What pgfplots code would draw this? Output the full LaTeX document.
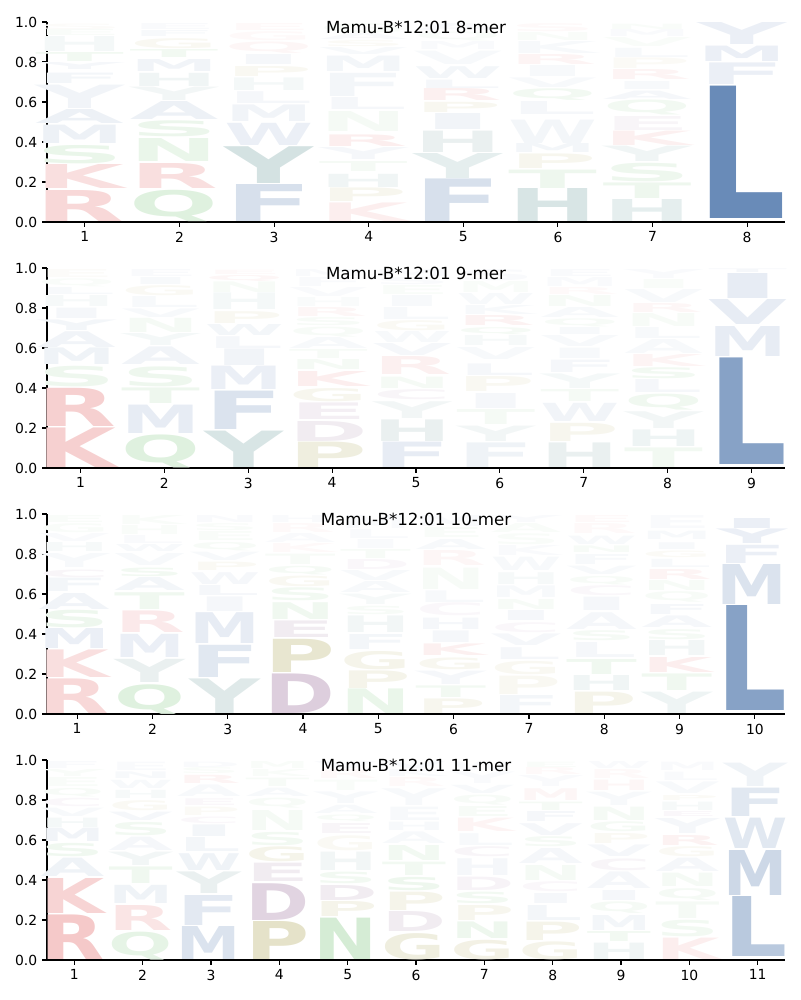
\documentclass[border=0pt]{standalone}
\usepackage{fontspec}
\setmainfont{DejaVu Sans}
\usepackage{pgfplots}
\pgfplotsset{compat=1.18}

\definecolor{cr}{RGB}{214,39,40}
\definecolor{cb}{RGB}{55,100,160}
\definecolor{ct}{RGB}{40,110,110}
\definecolor{cg}{RGB}{44,160,44}
\definecolor{co}{RGB}{150,140,40}
\definecolor{cp}{RGB}{120,60,120}

% primitive font, so that it is set even where tikz uses \nullfont
\font\logoprim="DejaVu Sans/B" at 10pt
\pgfdeclareplotmark{blank}{}
\newbox\letterbox

\pgfplotsset{
  logo/.style={
    width=531.36pt, height=144pt, scale only axis,
    anchor=south west, axis on top,
    ymin=0, ymax=1, xmin=0.6,
    axis x line*=bottom, axis y line*=left,
    axis line style={-, line width=0.8pt},
    tick align=outside, major tick length=3.5pt,
    tick style={line width=0.8pt, black},
    ytick={0,0.2,0.4,0.6,0.8,1.0},
    yticklabel style={/pgf/number format/.cd, fixed, fixed zerofill, precision=1},
    /pgf/number format/assume math mode=true,
    ticklabel style={font=\fontsize{10}{12}\selectfont},
    title style={at={(0.5,0.93)}, anchor=center, font=\fontsize{12}{14}\selectfont},
  },
  letters/.style={
    scatter, only marks, mark=blank,
    visualization depends on={value \thisrow{y0}\as\lyb},
    visualization depends on={value \thisrow{y1}\as\lya},
    visualization depends on={value \thisrow{L}\as\ltr},
    visualization depends on={value \thisrow{c}\as\lc},
    visualization depends on={value \thisrow{o}\as\lo},
    scatter/@pre marker code/.code={%
      \setbox\letterbox=\hbox{\logoprim\ltr}%
      \ifdim\wd\letterbox>0.5pt
      \pgfmathsetmacro\sx{\lw/\wd\letterbox}%
      \pgfmathsetmacro\sy{max((\lya-\lyb)*144,0.3)/(\ht\letterbox+\dp\letterbox)}%
      \node[inner sep=0pt, outer sep=0pt, anchor=south, xshift=0.5*\lw+5pt,
        xscale=\sx, yscale=\sy, text=\lc!\lo!white] at (0,0) {\logoprim\ltr};
      \fi
    },
    scatter/@post marker code/.code={},
  },
}

\begin{document}
\begin{tikzpicture}
\path[use as bounding box] (0,0) rectangle (576pt,720pt);

% ---------------- 8-mer
\def\lw{64pt}
\begin{axis}[logo, at={(33.84pt,560.16pt)}, xmax=8.4, xtick={1,...,8},
  title={Mamu-B*12:01 8-mer}]
\addplot[letters] table[x=x, y=y0] {
x y0 y1 L c o
1 0.0 0.155 R cr 18
1 0.165 0.285 K cr 15
1 0.293 0.385 S cg 10
1 0.393 0.485 M cb 9
1 0.49 0.56 A cb 9
1 0.568 0.685 Y cb 7
1 0.693 0.745 F cb 6
1 0.76 0.795 Y cb 5
1 0.8 0.845 T cg 6
1 0.85 0.925 H ct 5
1 0.93 0.96 E cg 3
1 0.962 0.99 S co 3
2 0.0 0.157 Q cg 15
2 0.168 0.293 R cr 15
2 0.30 0.415 N cg 10
2 0.425 0.505 S cg 9
2 0.51 0.60 A cb 9
2 0.605 0.672 Y ct 6
2 0.677 0.743 H ct 7
2 0.75 0.81 M cb 7
2 0.82 0.86 T cg 6
2 0.868 0.918 G co 6
2 0.925 0.955 F cb 4
2 0.96 0.99 E cb 3
3 0.0 0.185 F cb 20
3 0.193 0.377 Y ct 20
3 0.382 0.493 W cb 10
3 0.502 0.585 M cb 7
3 0.593 0.652 L cb 5
3 0.655 0.718 H ct 5
3 0.727 0.777 P co 6
3 0.785 0.835 I cb 5
3 0.843 0.9 Q cr 4
3 0.905 0.95 G cr 3
3 0.955 0.99 E cr 3
4 0.0 0.093 K cr 8
4 0.1 0.168 P co 8
4 0.172 0.238 H ct 7
4 0.25 0.3 T cg 5
4 0.31 0.37 Y cb 5
4 0.377 0.435 R cr 8
4 0.45 0.55 N cg 5
4 0.56 0.62 L cb 5
4 0.627 0.743 F cb 6
4 0.75 0.827 M cb 6
4 0.835 0.87 V cb 4
4 0.875 0.905 S co 4
4 0.91 0.94 A cb 3
4 0.945 0.99 G cg 3
5 0.0 0.213 F cb 20
5 0.218 0.343 Y ct 12
5 0.348 0.455 H ct 10
5 0.46 0.54 I cb 7
5 0.547 0.598 P co 7
5 0.605 0.665 R cr 7
5 0.668 0.71 L cb 5
5 0.718 0.777 W cb 6
5 0.785 0.852 V cb 4
5 0.86 0.9 M cb 3
5 0.905 0.95 Q cg 3
5 0.955 0.99 A cb 3
6 0.0 0.165 H ct 18
6 0.168 0.26 T cg 8
6 0.265 0.338 P co 8
6 0.345 0.39 M cb 6
6 0.393 0.51 W cb 6
6 0.535 0.6 L cb 5
6 0.61 0.668 Q cg 6
6 0.672 0.72 V cb 4
6 0.725 0.78 I cb 4
6 0.785 0.835 R cr 5
6 0.84 0.9 K cb 4
6 0.905 0.945 N cg 3
6 0.95 0.99 S cr 3
7 0.0 0.11 H ct 12
7 0.115 0.193 T cg 8
7 0.2 0.293 S cg 8
7 0.3 0.377 Y ct 7
7 0.38 0.452 K cr 7
7 0.457 0.527 E cp 5
7 0.535 0.61 Q cg 6
7 0.613 0.655 A cb 5
7 0.66 0.70 I cb 4
7 0.71 0.76 R cr 5
7 0.765 0.818 P co 4
7 0.822 0.868 L cb 4
7 0.875 0.92 V cg 3
7 0.925 0.96 M cb 3
7 0.963 0.99 N cg 3
8 0.015 0.677 L cb 75
8 0.685 0.793 F cb 10
8 0.8 0.877 M cb 10
8 0.885 0.995 Y cb 10
};
\end{axis}

% ---------------- 9-mer
\def\lw{56.8pt}
\begin{axis}[logo, at={(33.84pt,383.04pt)}, xmax=9.4, xtick={1,...,9},
  title={Mamu-B*12:01 9-mer}]
\addplot[letters] table[x=x, y=y0] {
x y0 y1 L c o
1 0.0 0.198 K cr 22
1 0.207 0.398 R cr 22
1 0.407 0.51 S cg 8
1 0.515 0.598 M cb 8
1 0.603 0.682 A cb 7
1 0.687 0.74 Y cb 6
1 0.748 0.80 I cb 5
1 0.805 0.86 H ct 4
1 0.865 0.9 L cb 4
1 0.905 0.945 Q cg 3
1 0.95 0.99 E co 3
2 0.0 0.165 Q cg 15
2 0.173 0.315 M cb 12
2 0.32 0.398 T cg 8
2 0.407 0.507 S cg 8
2 0.515 0.603 A cb 7
2 0.61 0.67 Y ct 5
2 0.677 0.748 N cg 5
2 0.752 0.795 V cb 4
2 0.8 0.855 L cb 4
2 0.86 0.91 G co 5
2 0.915 0.95 I cb 4
2 0.955 0.99 E cb 3
3 0.0 0.182 Y ct 18
3 0.19 0.382 F cb 18
3 0.39 0.507 M cb 10
3 0.51 0.593 I cb 7
3 0.598 0.657 L cb 5
3 0.66 0.715 W cb 6
3 0.723 0.782 P co 6
3 0.79 0.873 H ct 5
3 0.877 0.93 N cg 4
3 0.935 0.965 Q cr 4
3 0.968 0.99 E cr 3
4 0.0 0.127 P co 15
4 0.132 0.232 D cp 10
4 0.24 0.323 E cp 8
4 0.332 0.398 G co 8
4 0.407 0.482 K cr 8
4 0.49 0.54 N cg 5
4 0.545 0.59 T cg 4
4 0.595 0.65 A cb 4
4 0.655 0.705 Q cg 4
4 0.71 0.75 S cg 4
4 0.755 0.8 R cr 4
4 0.805 0.85 H ct 3
4 0.855 0.9 V cb 3
4 0.905 0.95 F cb 3
4 0.955 0.99 M cb 3
5 0.0 0.127 F cb 12
5 0.132 0.24 H ct 10
5 0.248 0.332 Y ct 6
5 0.34 0.39 C cp 5
5 0.398 0.455 N cg 5
5 0.465 0.555 R cr 7
5 0.56 0.62 V cb 5
5 0.625 0.68 W cb 4
5 0.685 0.735 G co 5
5 0.74 0.8 L cb 4
5 0.805 0.86 I cb 4
5 0.865 0.91 E cg 3
5 0.915 0.95 S cb 3
5 0.955 0.99 M cb 3
6 0.0 0.123 F cb 8
6 0.13 0.207 Y ct 6
6 0.215 0.29 T cg 5
6 0.298 0.373 I cb 5
6 0.38 0.455 P co 6
6 0.462 0.52 L cb 5
6 0.54 0.6 V cb 4
6 0.61 0.66 H ct 4
6 0.665 0.7 Q cg 5
6 0.71 0.76 R cr 6
6 0.765 0.81 K cb 4
6 0.815 0.87 W cb 4
6 0.875 0.93 M cg 3
6 0.935 0.99 S cb 3
7 0.0 0.123 H ct 10
7 0.132 0.223 P co 8
7 0.232 0.323 W cb 7
7 0.33 0.39 T cg 5
7 0.397 0.47 Y ct 5
7 0.478 0.54 F cb 5
7 0.548 0.6 I cb 4
7 0.605 0.66 V cb 4
7 0.665 0.7 I cb 4
7 0.705 0.745 Q cg 4
7 0.75 0.8 A cb 4
7 0.805 0.86 N cg 4
7 0.865 0.9 R cr 3
7 0.905 0.95 M cb 3
7 0.955 0.99 E cb 3
8 0.0 0.098 T cg 6
8 0.107 0.19 H ct 8
8 0.198 0.282 Y ct 6
8 0.29 0.37 Q cg 7
8 0.375 0.44 L cb 5
8 0.445 0.5 S cg 6
8 0.505 0.565 K cr 5
8 0.57 0.64 A cb 4
8 0.645 0.7 L cb 4
8 0.705 0.77 N cg 4
8 0.775 0.82 R cr 4
8 0.825 0.89 V cb 4
8 0.895 0.94 I cg 3
8 0.945 0.99 Y cb 3
9 0.015 0.548 L cb 60
9 0.557 0.707 M cb 12
9 0.715 0.84 V cb 12
9 0.848 0.973 I cb 12
9 0.977 0.995 T cb 5
};
\end{axis}

% ---------------- 10-mer
\def\lw{51pt}
\begin{axis}[logo, at={(33.84pt,205.92pt)}, xmax=10.4, xtick={1,...,10},
  title={Mamu-B*12:01 10-mer}]
\addplot[letters] table[x=x, y=y0] {
x y0 y1 L c o
1 0.0 0.173 R cr 18
1 0.182 0.32 K cr 15
1 0.327 0.427 M cb 10
1 0.432 0.52 S cg 8
1 0.523 0.603 A cb 7
1 0.61 0.677 F cb 6
1 0.682 0.72 C cp 5
1 0.73 0.8 Y cb 4
1 0.81 0.855 H ct 4
1 0.86 0.9 V cb 3
1 0.905 0.95 G cg 3
1 0.955 0.99 E cg 3
2 0.0 0.148 Q cg 15
2 0.157 0.273 Y ct 10
2 0.282 0.398 M cb 10
2 0.407 0.515 R cr 10
2 0.523 0.607 T cg 7
2 0.615 0.68 A cb 6
2 0.687 0.73 S cg 6
2 0.74 0.8 V cb 4
2 0.81 0.845 W cb 4
2 0.85 0.89 L cb 3
2 0.895 0.94 H cg 3
2 0.945 0.99 K cg 3
3 0.0 0.173 Y ct 15
3 0.182 0.343 F cb 15
3 0.353 0.507 M cb 12
3 0.51 0.583 I cb 5
3 0.59 0.64 L cb 5
3 0.648 0.707 W cb 5
3 0.715 0.757 P co 5
3 0.765 0.807 V cb 4
3 0.815 0.857 Q cg 4
3 0.865 0.91 E cg 3
3 0.915 0.95 S cg 3
3 0.955 0.99 N cb 3
4 0.0 0.198 D cp 25
4 0.207 0.373 P co 22
4 0.382 0.465 E cp 10
4 0.473 0.557 N cg 7
4 0.565 0.63 S cg 6
4 0.637 0.69 G co 6
4 0.697 0.74 Q cg 5
4 0.748 0.8 T cg 4
4 0.805 0.85 K cr 3
4 0.855 0.9 A cb 3
4 0.905 0.95 R cr 3
4 0.955 0.99 H cb 3
5 0.0 0.123 N cg 10
5 0.127 0.215 P co 10
5 0.223 0.315 G co 10
5 0.323 0.398 F cb 6
5 0.407 0.49 H ct 6
5 0.498 0.54 S cg 4
5 0.548 0.6 Y ct 4
5 0.605 0.66 A cb 4
5 0.665 0.715 V cb 4
5 0.72 0.77 D cp 4
5 0.775 0.82 T cg 4
5 0.825 0.87 I cb 3
5 0.875 0.92 L cb 3
5 0.925 0.99 M cb 3
6 0.0 0.073 P co 8
6 0.082 0.14 T cg 6
6 0.148 0.215 Y cb 5
6 0.223 0.282 G co 7
6 0.29 0.348 K cr 7
6 0.357 0.415 I cb 5
6 0.423 0.48 H cb 5
6 0.49 0.555 C cp 4
6 0.557 0.615 L cb 4
6 0.623 0.73 N cg 4
6 0.74 0.815 R cr 4
6 0.823 0.873 A cb 4
6 0.88 0.93 E cg 3
6 0.935 0.99 M cb 3
7 0.0 0.09 F cb 6
7 0.098 0.19 P co 6
7 0.198 0.265 G co 6
7 0.273 0.332 L cb 5
7 0.34 0.398 V cb 5
7 0.407 0.457 C cp 4
7 0.465 0.515 I cb 5
7 0.523 0.573 N cg 4
7 0.582 0.64 M cb 4
7 0.648 0.707 H ct 4
7 0.715 0.782 W cb 4
7 0.79 0.84 K cb 3
7 0.845 0.9 S cg 3
7 0.905 0.95 A cg 3
7 0.955 0.99 Y cb 3
8 0.0 0.107 P co 10
8 0.115 0.19 H ct 7
8 0.198 0.273 T cg 7
8 0.282 0.357 L cb 5
8 0.365 0.415 S cg 5
8 0.423 0.507 A cb 5
8 0.515 0.582 I cb 5
8 0.59 0.64 C cp 4
8 0.648 0.69 Q cg 4
8 0.698 0.74 V cb 4
8 0.748 0.798 F cb 4
8 0.807 0.84 N cg 4
8 0.848 0.89 W cb 4
8 0.9 0.95 R cr 3
8 0.955 0.99 E cr 3
9 0.0 0.107 Y ct 8
9 0.115 0.198 T cg 7
9 0.207 0.282 K cr 8
9 0.29 0.365 H ct 6
9 0.373 0.423 S cg 5
9 0.432 0.49 A cb 5
9 0.498 0.548 F cb 5
9 0.557 0.61 Q cg 4
9 0.615 0.665 N cg 4
9 0.673 0.723 R cr 5
9 0.732 0.773 L cb 4
9 0.782 0.815 G co 4
9 0.823 0.857 I cb 4
9 0.873 0.915 M cb 4
9 0.925 0.99 E cb 3
10 0.015 0.54 L cb 60
10 0.548 0.748 M cb 18
10 0.752 0.843 F cb 10
10 0.85 0.923 Y cb 10
10 0.928 0.978 I cb 10
};
\end{axis}

% ---------------- 11-mer
\def\lw{46.2pt}
\begin{axis}[logo, at={(33.84pt,28.8pt)}, xmax=11.4, xtick={1,...,11},
  title={Mamu-B*12:01 11-mer}]
\addplot[letters] table[x=x, y=y0] {
x y0 y1 L c o
1 0.0 0.223 R cr 25
1 0.232 0.407 K cr 20
1 0.415 0.507 A cb 8
1 0.515 0.582 S cg 7
1 0.59 0.657 M cb 7
1 0.66 0.707 H ct 5
1 0.715 0.757 V cb 4
1 0.765 0.807 C cp 4
1 0.815 0.857 Q cg 4
1 0.865 0.91 E cg 3
1 0.915 0.95 Y cg 3
1 0.955 0.99 F cb 3
2 0.0 0.14 Q cg 12
2 0.148 0.273 R cr 12
2 0.282 0.373 M cb 8
2 0.382 0.465 T cg 7
2 0.473 0.54 Y ct 6
2 0.548 0.615 A cb 5
2 0.623 0.69 S cg 6
2 0.698 0.74 V cb 5
2 0.748 0.798 G co 5
2 0.807 0.848 H ct 4
2 0.857 0.898 W cb 4
2 0.907 0.94 N cb 4
2 0.948 0.99 E cb 3
3 0.0 0.165 M cb 18
3 0.173 0.323 F cb 14
3 0.332 0.44 Y ct 10
3 0.448 0.532 W cb 8
3 0.54 0.61 L cb 6
3 0.615 0.673 I cb 6
3 0.682 0.715 C cp 4
3 0.723 0.765 P co 4
3 0.773 0.807 E cp 4
3 0.815 0.873 A cb 4
3 0.882 0.923 R cr 5
3 0.93 0.96 S cg 3
3 0.963 0.99 D cb 3
4 0.0 0.19 P co 25
4 0.198 0.382 D cp 22
4 0.39 0.482 E cp 10
4 0.49 0.565 G co 10
4 0.573 0.64 S cg 6
4 0.648 0.748 N cg 5
4 0.757 0.807 Q cg 4
4 0.815 0.857 A cb 4
4 0.865 0.907 T cg 4
4 0.915 0.95 K cg 3
4 0.955 0.99 M cg 3
5 0.0 0.207 N cg 20
5 0.215 0.29 P co 10
5 0.298 0.373 D cp 10
5 0.382 0.44 S cg 6
5 0.448 0.54 H ct 6
5 0.548 0.623 G co 5
5 0.632 0.682 E cp 5
5 0.69 0.723 Q cg 4
5 0.732 0.773 A cb 4
5 0.782 0.84 Y cb 4
5 0.848 0.9 T cg 3
5 0.905 0.95 R cr 3
5 0.955 0.99 V cb 3
6 0.0 0.132 G co 15
6 0.14 0.24 D cp 10
6 0.248 0.34 P co 10
6 0.348 0.415 S cg 8
6 0.423 0.49 T cg 6
6 0.498 0.573 N cg 6
6 0.582 0.64 A cb 4
6 0.648 0.69 H cb 4
6 0.698 0.765 E cb 4
6 0.773 0.857 Y cb 4
6 0.865 0.91 R cr 3
6 0.915 0.95 K cb 3
6 0.955 0.99 V cb 3
7 0.0 0.098 G co 12
7 0.107 0.19 N cg 8
7 0.198 0.273 P co 8
7 0.282 0.34 S cg 6
7 0.348 0.415 D cp 6
7 0.423 0.507 H cb 5
7 0.515 0.565 C cp 5
7 0.573 0.632 L cb 4
7 0.64 0.707 K cr 5
7 0.715 0.765 E cg 4
7 0.773 0.823 Q cg 4
7 0.832 0.873 V cb 4
7 0.882 0.94 Y cb 3
7 0.948 0.99 W cb 3
8 0.0 0.09 G co 10
8 0.098 0.19 P co 10
8 0.198 0.273 L cb 6
8 0.282 0.332 I cb 5
8 0.34 0.39 C cp 4
8 0.398 0.473 N cg 5
8 0.482 0.557 A cb 5
8 0.565 0.615 S cg 5
8 0.623 0.682 V cb 5
8 0.69 0.74 F cb 5
8 0.748 0.79 T cg 5
8 0.798 0.857 M cr 4
8 0.865 0.92 Y cb 3
8 0.925 0.96 R cr 3
8 0.963 0.99 E cg 3
9 0.0 0.082 H ct 7
9 0.09 0.14 T cg 6
9 0.148 0.223 M cb 6
9 0.232 0.29 Q cg 5
9 0.298 0.348 I cb 5
9 0.357 0.44 A cb 5
9 0.448 0.507 C cp 5
9 0.515 0.573 V cb 5
9 0.582 0.632 P co 5
9 0.64 0.69 G cg 5
9 0.698 0.765 N cg 5
9 0.773 0.84 Y cb 4
9 0.848 0.9 H cr 4
9 0.905 0.95 R cr 3
9 0.955 0.99 W cb 3
10 0.0 0.107 K cr 8
10 0.115 0.198 S cg 6
10 0.207 0.29 T cg 5
10 0.298 0.357 Q cg 5
10 0.365 0.432 N cg 5
10 0.44 0.507 A cb 5
10 0.515 0.565 G co 5
10 0.573 0.623 R cr 6
10 0.632 0.707 Y cb 5
10 0.715 0.74 E cp 4
10 0.748 0.79 H ct 4
10 0.798 0.823 P co 4
10 0.832 0.89 V cb 4
10 0.898 0.94 L cb 3
10 0.948 0.99 M cb 3
11 0.015 0.315 L cb 35
11 0.323 0.548 M cb 25
11 0.555 0.707 W cb 15
11 0.715 0.857 F cb 15
11 0.865 0.982 Y cb 8
};
\end{axis}
\end{tikzpicture}
\end{document}
